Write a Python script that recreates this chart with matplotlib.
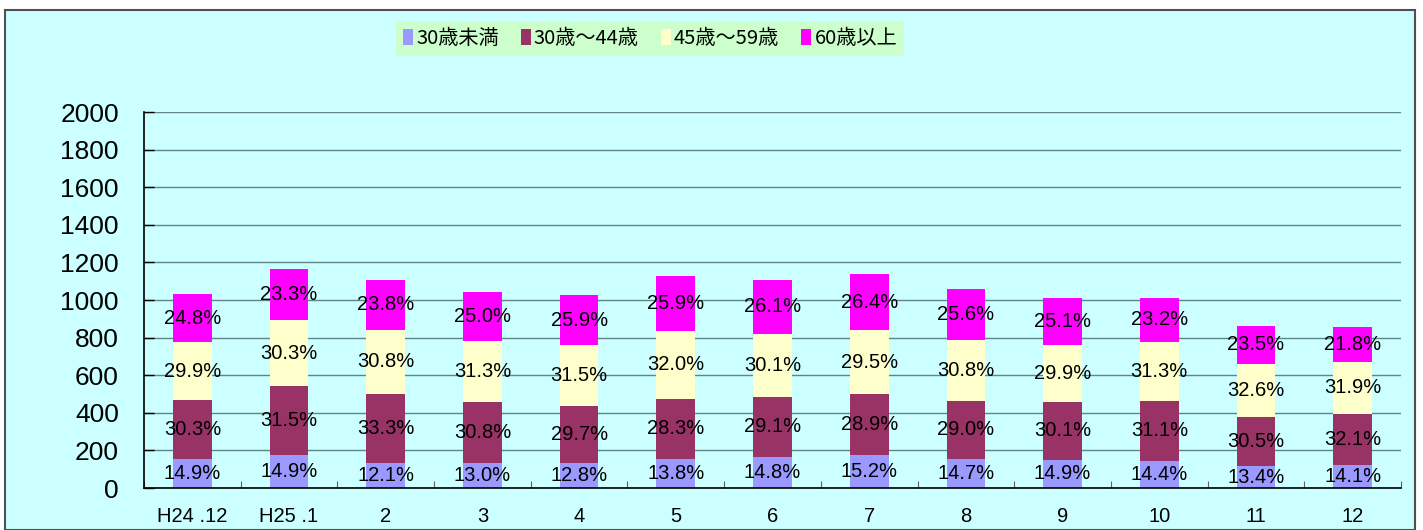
import numpy as np
import matplotlib
matplotlib.use("Agg")
import matplotlib.pyplot as plt
from matplotlib.patches import Rectangle, Patch
from matplotlib.ticker import FixedLocator

plt.rcParams['font.family'] = ['Liberation Sans', 'Noto Sans CJK JP', 'DejaVu Sans']

months = ["H24 .12", "H25 .1", "2", "3", "4", "5", "6", "7", "8", "9", "10", "11", "12"]
series_names = ["30歳未満", "30歳～44歳", "45歳～59歳", "60歳以上"]

# counts
under30 = [154, 174, 134, 135, 131, 156, 164, 173, 156, 151, 146, 116, 121]
age30_44 = [313, 367, 368, 320, 305, 319, 322, 329, 307, 305, 315, 263, 275]
age45_59 = [309, 353, 341, 325, 324, 361, 333, 336, 326, 303, 317, 281, 273]
over60 = [256, 271, 263, 260, 266, 292, 289, 300, 271, 254, 235, 203, 187]

# percent labels shown on the bars
pct_under30 = [14.9, 14.9, 12.1, 13.0, 12.8, 13.8, 14.8, 15.2, 14.7, 14.9, 14.4, 13.4, 14.1]
pct_30_44 = [30.3, 31.5, 33.3, 30.8, 29.7, 28.3, 29.1, 28.9, 29.0, 30.1, 31.1, 30.5, 32.1]
pct_45_59 = [29.9, 30.3, 30.8, 31.3, 31.5, 32.0, 30.1, 29.5, 30.8, 29.9, 31.3, 32.6, 31.9]
pct_over60 = [24.8, 23.3, 23.8, 25.0, 25.9, 25.9, 26.1, 26.4, 25.6, 25.1, 23.2, 23.5, 21.8]

colors = ['#9999FF', '#993366', '#FFFFCC', '#FF00FF']

fig = plt.figure(figsize=(14.23, 5.30), dpi=100, facecolor='white')

# cyan chart panel
panel = Rectangle((5 / 1423, 0), 1410 / 1423, 1 - 9.5 / 530, transform=fig.transFigure,
                  facecolor='#CCFFFF', edgecolor='#505050', linewidth=1.5, zorder=-10)
fig.patches.append(panel)

ax = fig.add_axes([144 / 1423, 1 - 488 / 530, (1401 - 144) / 1423, (488 - 112) / 530])
ax.set_facecolor('none')

x = np.arange(len(months))
data = [under30, age30_44, age45_59, over60]
pcts = [pct_under30, pct_30_44, pct_45_59, pct_over60]
bottom = np.zeros(len(months))
for vals, pc, col in zip(data, pcts, colors):
    vals = np.array(vals)
    ax.bar(x, vals, 0.4, bottom=bottom, color=col, zorder=2)
    for xi, b, v, p in zip(x, bottom, vals, pc):
        ax.text(xi, b + v / 2, f"{p:.1f}%", ha='center', va='center', fontsize=14.5, zorder=3)
    bottom = bottom + vals

ax.set_xlim(-0.5, len(months) - 0.5)
ax.set_ylim(0, 2000)
ax.set_yticks(np.arange(0, 2001, 200))
ax.tick_params(axis='y', direction='in', length=7, width=1, labelsize=19, pad=18, colors='#000000')
ax.set_xticks(x)
ax.set_xticklabels(months)
ax.tick_params(axis='x', which='major', length=0, labelsize=14.5, pad=14)
ax.xaxis.set_minor_locator(FixedLocator(np.arange(-0.5, len(months), 1.0)))
ax.tick_params(axis='x', which='minor', direction='in', length=5, width=0.8, color='#606060')
ax.grid(axis='y', color='#5f8585', linewidth=1.0, zorder=0)
ax.set_axisbelow(True)
for s in ['top', 'right']:
    ax.spines[s].set_visible(False)
ax.spines['left'].set_linewidth(1.2)
ax.spines['bottom'].set_linewidth(1.2)

handles = [Patch(facecolor=c, edgecolor='none') for c in colors]
leg = fig.legend(handles, series_names, loc='center', bbox_to_anchor=(650 / 1423, 1 - 38.5 / 530),
                 ncol=4, frameon=True, fancybox=False, facecolor='#CCFFCC', edgecolor='none',
                 framealpha=1, handlelength=0.5, handleheight=0.9, handletextpad=0.15,
                 columnspacing=1.1, borderpad=0.35, prop={'family': ['Noto Sans CJK JP'], 'size': 14.5})

fig.savefig('out.png', dpi=100, facecolor='white')
